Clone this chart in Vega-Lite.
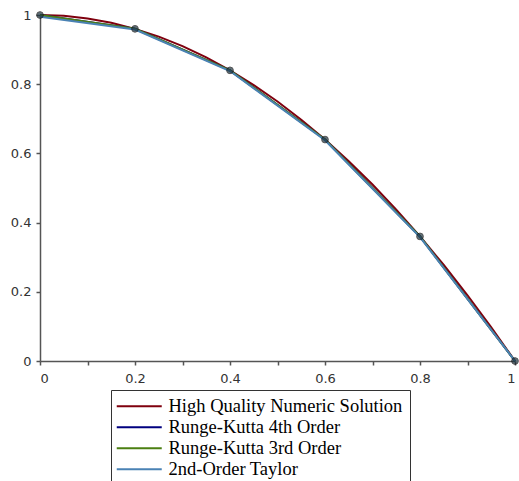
{
  "$schema": "https://vega.github.io/schema/vega-lite/v6.json",
  "width": 475,
  "height": 346,
  "autosize": {"type": "none"},
  "padding": {"left": 40, "top": 15, "right": 4, "bottom": 120},
  "background": "white",
  "config": {
    "view": {"stroke": null},
    "axis": {
      "grid": false,
      "domainColor": "#555555",
      "domainWidth": 1.5,
      "tickColor": "#555555",
      "tickWidth": 1.5,
      "tickSize": 4,
      "labelFont": "DejaVu Sans",
      "labelFontSize": 13,
      "labelColor": "#333333",
      "title": null
    }
  },
  "datasets": {
    "lines": [
      {"x": 0, "y": 1, "series": "High Quality Numeric Solution"},
      {"x": 0.05, "y": 0.9975, "series": "High Quality Numeric Solution"},
      {"x": 0.1, "y": 0.99, "series": "High Quality Numeric Solution"},
      {"x": 0.15, "y": 0.9775, "series": "High Quality Numeric Solution"},
      {"x": 0.2, "y": 0.96, "series": "High Quality Numeric Solution"},
      {"x": 0.25, "y": 0.9375, "series": "High Quality Numeric Solution"},
      {"x": 0.3, "y": 0.91, "series": "High Quality Numeric Solution"},
      {"x": 0.35, "y": 0.8775, "series": "High Quality Numeric Solution"},
      {"x": 0.4, "y": 0.84, "series": "High Quality Numeric Solution"},
      {"x": 0.45, "y": 0.7975, "series": "High Quality Numeric Solution"},
      {"x": 0.5, "y": 0.75, "series": "High Quality Numeric Solution"},
      {"x": 0.55, "y": 0.6975, "series": "High Quality Numeric Solution"},
      {"x": 0.6, "y": 0.64, "series": "High Quality Numeric Solution"},
      {"x": 0.65, "y": 0.5775, "series": "High Quality Numeric Solution"},
      {"x": 0.7, "y": 0.51, "series": "High Quality Numeric Solution"},
      {"x": 0.75, "y": 0.4375, "series": "High Quality Numeric Solution"},
      {"x": 0.8, "y": 0.36, "series": "High Quality Numeric Solution"},
      {"x": 0.85, "y": 0.2775, "series": "High Quality Numeric Solution"},
      {"x": 0.9, "y": 0.19, "series": "High Quality Numeric Solution"},
      {"x": 0.95, "y": 0.0975, "series": "High Quality Numeric Solution"},
      {"x": 1, "y": 0, "series": "High Quality Numeric Solution"},
      {"x": 0, "y": 1, "series": "Runge-Kutta 4th Order"},
      {"x": 0.2, "y": 0.96, "series": "Runge-Kutta 4th Order"},
      {"x": 0.4, "y": 0.84, "series": "Runge-Kutta 4th Order"},
      {"x": 0.6, "y": 0.64, "series": "Runge-Kutta 4th Order"},
      {"x": 0.8, "y": 0.36, "series": "Runge-Kutta 4th Order"},
      {"x": 1, "y": 0, "series": "Runge-Kutta 4th Order"},
      {"x": 0, "y": 1, "series": "Runge-Kutta 3rd Order"},
      {"x": 0.2, "y": 0.96, "series": "Runge-Kutta 3rd Order"},
      {"x": 0.4, "y": 0.84, "series": "Runge-Kutta 3rd Order"},
      {"x": 0.6, "y": 0.64, "series": "Runge-Kutta 3rd Order"},
      {"x": 0.8, "y": 0.36, "series": "Runge-Kutta 3rd Order"},
      {"x": 1, "y": 0, "series": "Runge-Kutta 3rd Order"},
      {"x": 0, "y": 0.995, "series": "2nd-Order Taylor"},
      {"x": 0.2, "y": 0.958, "series": "2nd-Order Taylor"},
      {"x": 0.4, "y": 0.838, "series": "2nd-Order Taylor"},
      {"x": 0.6, "y": 0.638, "series": "2nd-Order Taylor"},
      {"x": 0.8, "y": 0.358, "series": "2nd-Order Taylor"},
      {"x": 1, "y": 0, "series": "2nd-Order Taylor"}
    ],
    "nodes": [
      {"x": 0, "y": 1},
      {"x": 0.2, "y": 0.96},
      {"x": 0.4, "y": 0.84},
      {"x": 0.6, "y": 0.64},
      {"x": 0.8, "y": 0.36},
      {"x": 1, "y": 0}
    ]
  },
  "layer": [
    {
      "data": {"name": "lines"},
      "mark": {"type": "line", "strokeWidth": 2, "clip": false},
      "encoding": {
        "x": {
          "field": "x", "type": "quantitative",
          "scale": {"domain": [0, 1], "nice": false, "zero": false},
          "axis": {
            "values": [0, 0.1, 0.2, 0.3, 0.4, 0.5, 0.6, 0.7, 0.8, 0.9, 1],
            "labelExpr": "(round(datum.value*10) % 2 == 0) ? format(datum.value, '~g') : ''",
            "labelPadding": 7
          }
        },
        "y": {
          "field": "y", "type": "quantitative",
          "scale": {"domain": [0, 1], "nice": false, "zero": false},
          "axis": {
            "values": [0, 0.1, 0.2, 0.3, 0.4, 0.5, 0.6, 0.7, 0.8, 0.9, 1],
            "labelExpr": "(round(datum.value*10) % 2 == 0) ? format(datum.value, '~g') : ''",
            "labelPadding": 5
          }
        },
        "color": {
          "field": "series", "type": "nominal",
          "scale": {
            "domain": ["High Quality Numeric Solution", "Runge-Kutta 4th Order", "Runge-Kutta 3rd Order", "2nd-Order Taylor"],
            "range": ["#7f000e", "#00007f", "#4b7f12", "#4a82b4"]
          },
          "legend": {
            "title": null,
            "orient": "none",
            "legendX": 71,
            "legendY": 375,
            "direction": "vertical",
            "symbolType": "M-5,0H5",
            "symbolSize": 81,
            "symbolOffset": 12,
            "symbolStrokeWidth": 2,
            "labelFont": "Liberation Serif",
            "labelFontSize": 18.5,
            "labelColor": "#000000",
            "labelOffset": 20,
            "labelLimit": 400,
            "strokeColor": "#333333",
            "padding": 7,
            "rowPadding": 2
          }
        },
        "order": {"field": "x", "type": "quantitative"}
      }
    },
    {
      "data": {"name": "nodes"},
      "mark": {"type": "point", "filled": true, "shape": "circle", "size": 45, "color": "#1c3340", "stroke": "#111111", "strokeWidth": 1, "clip": false},
      "encoding": {
        "x": {"field": "x", "type": "quantitative"},
        "y": {"field": "y", "type": "quantitative"}
      }
    }
  ]
}
